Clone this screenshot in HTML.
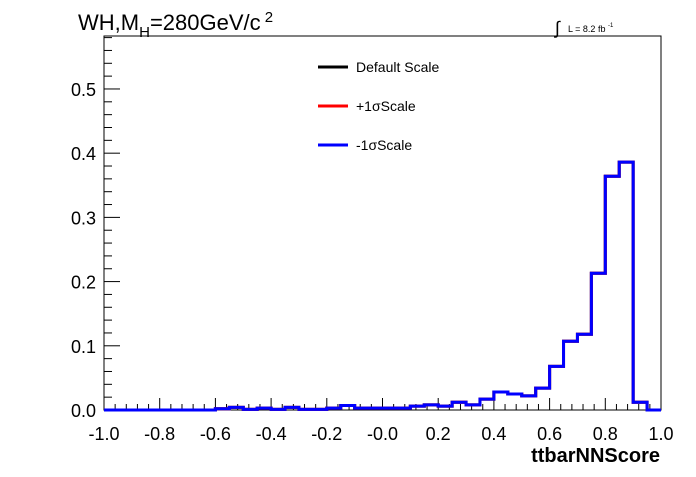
<!DOCTYPE html>
<html><head><meta charset="utf-8"><style>
body{margin:0;background:#fff;}
svg text{font-family:"Liberation Sans",sans-serif;}
</style></head><body>
<svg id="chart" width="696" height="472" xmlns="http://www.w3.org/2000/svg">
<rect width="696" height="472" fill="#fff"/>
<g id="axes"></g>
<g id="series"></g>
<text x="78" y="30" font-size="22">WH,M<tspan font-size="15" dy="7">H</tspan><tspan dy="-7">=280GeV/c</tspan><tspan font-size="15" dy="-8"> 2</tspan></text>
<text x="555" y="34" font-size="18">∫</text>
<text x="568" y="32" font-size="9">L = 8.2 fb <tspan font-size="6" dy="-5">-1</tspan></text>
<g>
<line x1="318" y1="67" x2="348" y2="67" stroke="#000" stroke-width="3"/>
<text x="356" y="72" font-size="14">Default Scale</text>
<line x1="318" y1="106" x2="348" y2="106" stroke="#f00" stroke-width="3"/>
<text x="356" y="111" font-size="14">+1σScale</text>
<line x1="318" y1="145" x2="348" y2="145" stroke="#00f" stroke-width="3"/>
<text x="356" y="150" font-size="14">-1σScale</text>
</g>
<text x="660" y="462" font-size="20" font-weight="bold" text-anchor="end">ttbarNNScore</text>
</svg>
<script>
const binValues=[0,0,0,0,0,0,0,0,0.002,0.004,0.001,0.003,0.001,0.004,0.001,0.001,0.003,0.007,0.003,0.003,
0.003,0.003,0.006,0.008,0.006,0.012,0.008,0.017,0.028,0.025,0.022,0.034,0.068,0.107,0.118,0.213,0.364,0.386,0.012,0];
const xTicks=["-1.0","-0.8","-0.6","-0.4","-0.2","-0.0","0.2","0.4","0.6","0.8","1.0"];
const yTicks=["0.0","0.1","0.2","0.3","0.4","0.5"];
const X0=104,X1=661,Y0=410,YT=36,YMAX=0.5825;
const sx=v=>X0+(v+1)/2*(X1-X0);
const sy=v=>Y0-v/YMAX*(Y0-YT);
const NS="http://www.w3.org/2000/svg";
const ax=document.getElementById('axes'),se=document.getElementById('series');
function mk(tag,attrs,parent){const e=document.createElementNS(NS,tag);for(const k in attrs)e.setAttribute(k,attrs[k]);parent.appendChild(e);return e;}
const frame=mk('rect',{x:X0,y:YT,width:X1-X0,height:Y0-YT,fill:'none',stroke:'#000','stroke-width':1},ax);


for(let i=0;i<=50;i++){const v=-1+i*0.04,x=sx(v),major=i%5===0;
const t=mk('line',{x1:x,y1:Y0,x2:x,y2:Y0-(major?12:6),stroke:'#000'},ax);

}
xTicks.forEach(s=>{const v=parseFloat(s);const t=mk('text',{x:sx(v),y:440,'font-size':18,'text-anchor':'middle'},ax);t.textContent=s;

});
for(let i=0;i<=29;i++){const v=i*0.02,y=sy(v);if(y<YT)break;const major=i%5===0;
const t=mk('line',{x1:X0,y1:y,x2:X0+(major?16:8),y2:y,stroke:'#000'},ax);

}
yTicks.forEach(s=>{const v=parseFloat(s);const t=mk('text',{x:96,y:sy(v)+7,'font-size':18,'text-anchor':'end'},ax);t.textContent=s;

});
const w=2/binValues.length;
function path(vals){let d='M'+sx(-1)+','+sy(0);vals.forEach((v,i)=>{d+=' L'+sx(-1+i*w)+','+sy(v)+' L'+sx(-1+(i+1)*w)+','+sy(v);});d+=' L'+sx(1)+','+sy(0);return d;}
[['#000','default-scale-series'],['#f00','plus-sigma-series'],['#00f','minus-sigma-series']].forEach(([c,n])=>{
const p=mk('path',{d:path(binValues),fill:'none',stroke:c,'stroke-width':3},se);

});
</script>
</body></html>
